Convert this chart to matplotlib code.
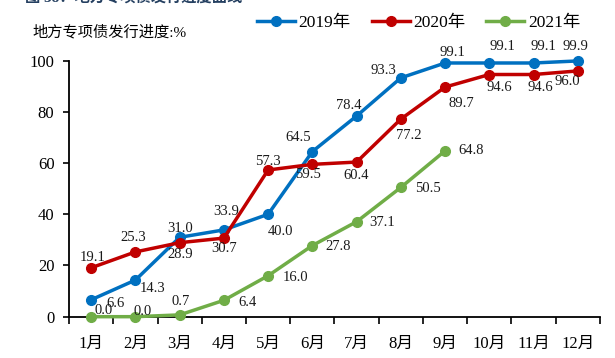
import numpy as np
import matplotlib.pyplot as plt

plt.rcParams['font.family'] = ['Liberation Serif', 'Noto Sans CJK SC']

months = ['1月', '2月', '3月', '4月', '5月', '6月', '7月', '8月', '9月', '10月', '11月', '12月']
y2019 = [6.6, 14.3, 31.0, 33.9, 40.0, 64.5, 78.4, 93.3, 99.1, 99.1, 99.1, 99.9]
y2020 = [19.1, 25.3, 28.9, 30.7, 57.3, 59.5, 60.4, 77.2, 89.7, 94.6, 94.6, 96.0]
y2021 = [0.0, 0.0, 0.7, 6.4, 16.0, 27.8, 37.1, 50.5, 64.8]
names = ['2019年', '2020年', '2021年']

colors = ['#0070C0', '#C00000', '#70AD47']
# 数据标签偏移 (像素, 向上为正)
off2019 = [(24, -4), (17, -8), (0, 9), (2, 18), (12, -17), (-14, 14),
           (-8, 10), (-17, 7), (7, 10), (13, 16), (10, 16), (-2, 14)]
off2020 = [(2, 10), (-2, 14), (1, -12), (0, -10), (0, 8), (-4, -10),
           (0, -13), (8, -16), (16, -16), (10, -13), (7, -13), (-11, -11)]
off2021 = [(12, 6), (7, 5), (1, 13), (24, -2), (27, -2), (26, -1),
           (26, -1), (27, -1), (26, 0)]

fig = plt.figure(figsize=(6.15, 3.58), dpi=100)
ax = fig.add_axes([0.1122, 0.1154, 0.8634, 0.7151])

series = [y2019, y2020, y2021]
offsets = [off2019, off2020, off2021]
for vals, name, c, offs in zip(series, names, colors, offsets):
    x = np.arange(len(vals))
    ax.plot(x, vals, color=c, lw=2.5, marker='o', ms=7, label=name, clip_on=False, zorder=3)
    for xi, v, (dx, dy) in zip(x, vals, offs):
        ax.annotate(f'{v:.1f}', (xi, v), xytext=(dx, dy), textcoords='offset pixels',
                    ha='center', va='center', fontsize=10.5, color='#1a1a1a')

ax.set_xlim(-0.5, 11.5)
ax.set_ylim(0, 100)
ax.set_yticks([0, 20, 40, 60, 80, 100])
ax.set_xticks(np.arange(12))
ax.set_xticklabels(months)
ax.set_xticks(np.arange(-0.5, 12, 1), minor=True)
ax.tick_params(axis='x', which='major', length=0, pad=14, labelsize=12)
ax.tick_params(axis='x', which='minor', length=5, width=1.2, direction='out')
ax.tick_params(axis='y', length=4.5, width=1.2, pad=6, labelsize=12)
for s in ['top', 'right']:
    ax.spines[s].set_visible(False)
for s in ['left', 'bottom']:
    ax.spines[s].set_linewidth(1.3)

ax.legend(loc='center left', ncol=3, frameon=False, fontsize=12.5, handlelength=2.2,
          handletextpad=0.2, columnspacing=1.2, borderaxespad=0,
          bbox_to_anchor=(250 / 615, 1 - 23 / 358), bbox_transform=fig.transFigure)

fig.text(32 / 615, 1 - 32 / 358, '地方专项债发行进度:%', fontsize=11, ha='left', va='center')
fig.text(25 / 615, 1 + 3 / 358, '图 38：地方专项债发行进度曲线', fontsize=11, fontweight='bold',
         color='#243F60', ha='left', va='center')

fig.savefig('out.png', dpi=100)
